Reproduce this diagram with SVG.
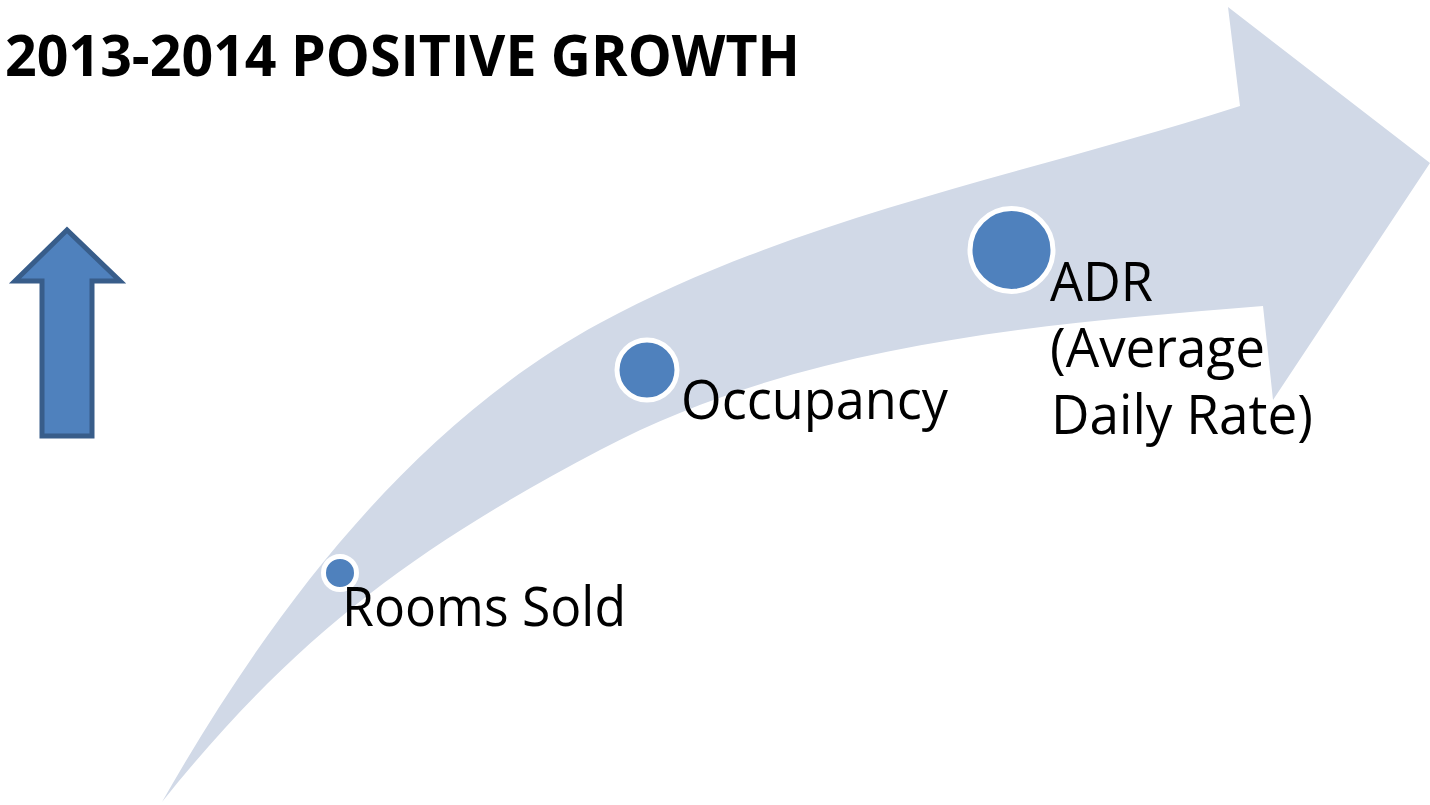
<svg xmlns="http://www.w3.org/2000/svg" width="1430" height="805" viewBox="0 0 1430 805">
  <style>
    .band { fill: #d1d9e7; }
    .dot { fill: #4f81bd; stroke: #ffffff; stroke-width: 5; }
    .label { font-family: "Open Sans", "Liberation Sans", sans-serif; font-size: 54px; fill: #000000; }
    .title { font-family: "Open Sans", "Liberation Sans", sans-serif; font-size: 57px; font-weight: bold; fill: #000000; }
    .up { fill: #4f81bd; stroke: #385d8a; stroke-width: 5; stroke-linejoin: miter; }
  </style>

  <rect width="1430" height="805" fill="#ffffff"/>

  <!-- heading -->
  <g id="title">
    <text class="title" x="5" y="76" textLength="795" lengthAdjust="spacingAndGlyphs">2013-2014 POSITIVE GROWTH</text>
  </g>

  <!-- block up arrow on the left -->
  <g id="up-arrow">
    <path class="up" d="M67,230 L15,281 L42,281 L42,436 L92,436 L92,281 L120,281 Z"/>
  </g>

  <!-- curved growth arrow -->
  <g id="growth-arrow">
    <path class="band" d="M162,802 C269,614 410,426 600,323 C798,216 1026,175 1240,106 L1228,7 L1430,163 L1273,400 L1263,306 C1038,324 800,344 600,450 C414,548 293,638 162,802 Z"/>
  </g>

  <!-- milestones along the arrow -->
  <g id="rooms-sold">
    <circle class="dot" cx="340" cy="573" r="16.5"/>
    <text class="label" x="342" y="626" textLength="284" lengthAdjust="spacingAndGlyphs">Rooms Sold</text>
  </g>

  <g id="occupancy">
    <circle class="dot" cx="647" cy="370" r="30"/>
    <text class="label" x="681" y="419" textLength="267" lengthAdjust="spacingAndGlyphs">Occupancy</text>
  </g>

  <g id="adr">
    <circle class="dot" cx="1011.5" cy="250" r="41.5"/>
    <text class="label" x="1050" y="301" textLength="103" lengthAdjust="spacingAndGlyphs">ADR</text>
    <text class="label" x="1050" y="367" textLength="215" lengthAdjust="spacingAndGlyphs">(Average</text>
    <text class="label" x="1051" y="434" textLength="262" lengthAdjust="spacingAndGlyphs">Daily Rate)</text>
  </g>
</svg>
